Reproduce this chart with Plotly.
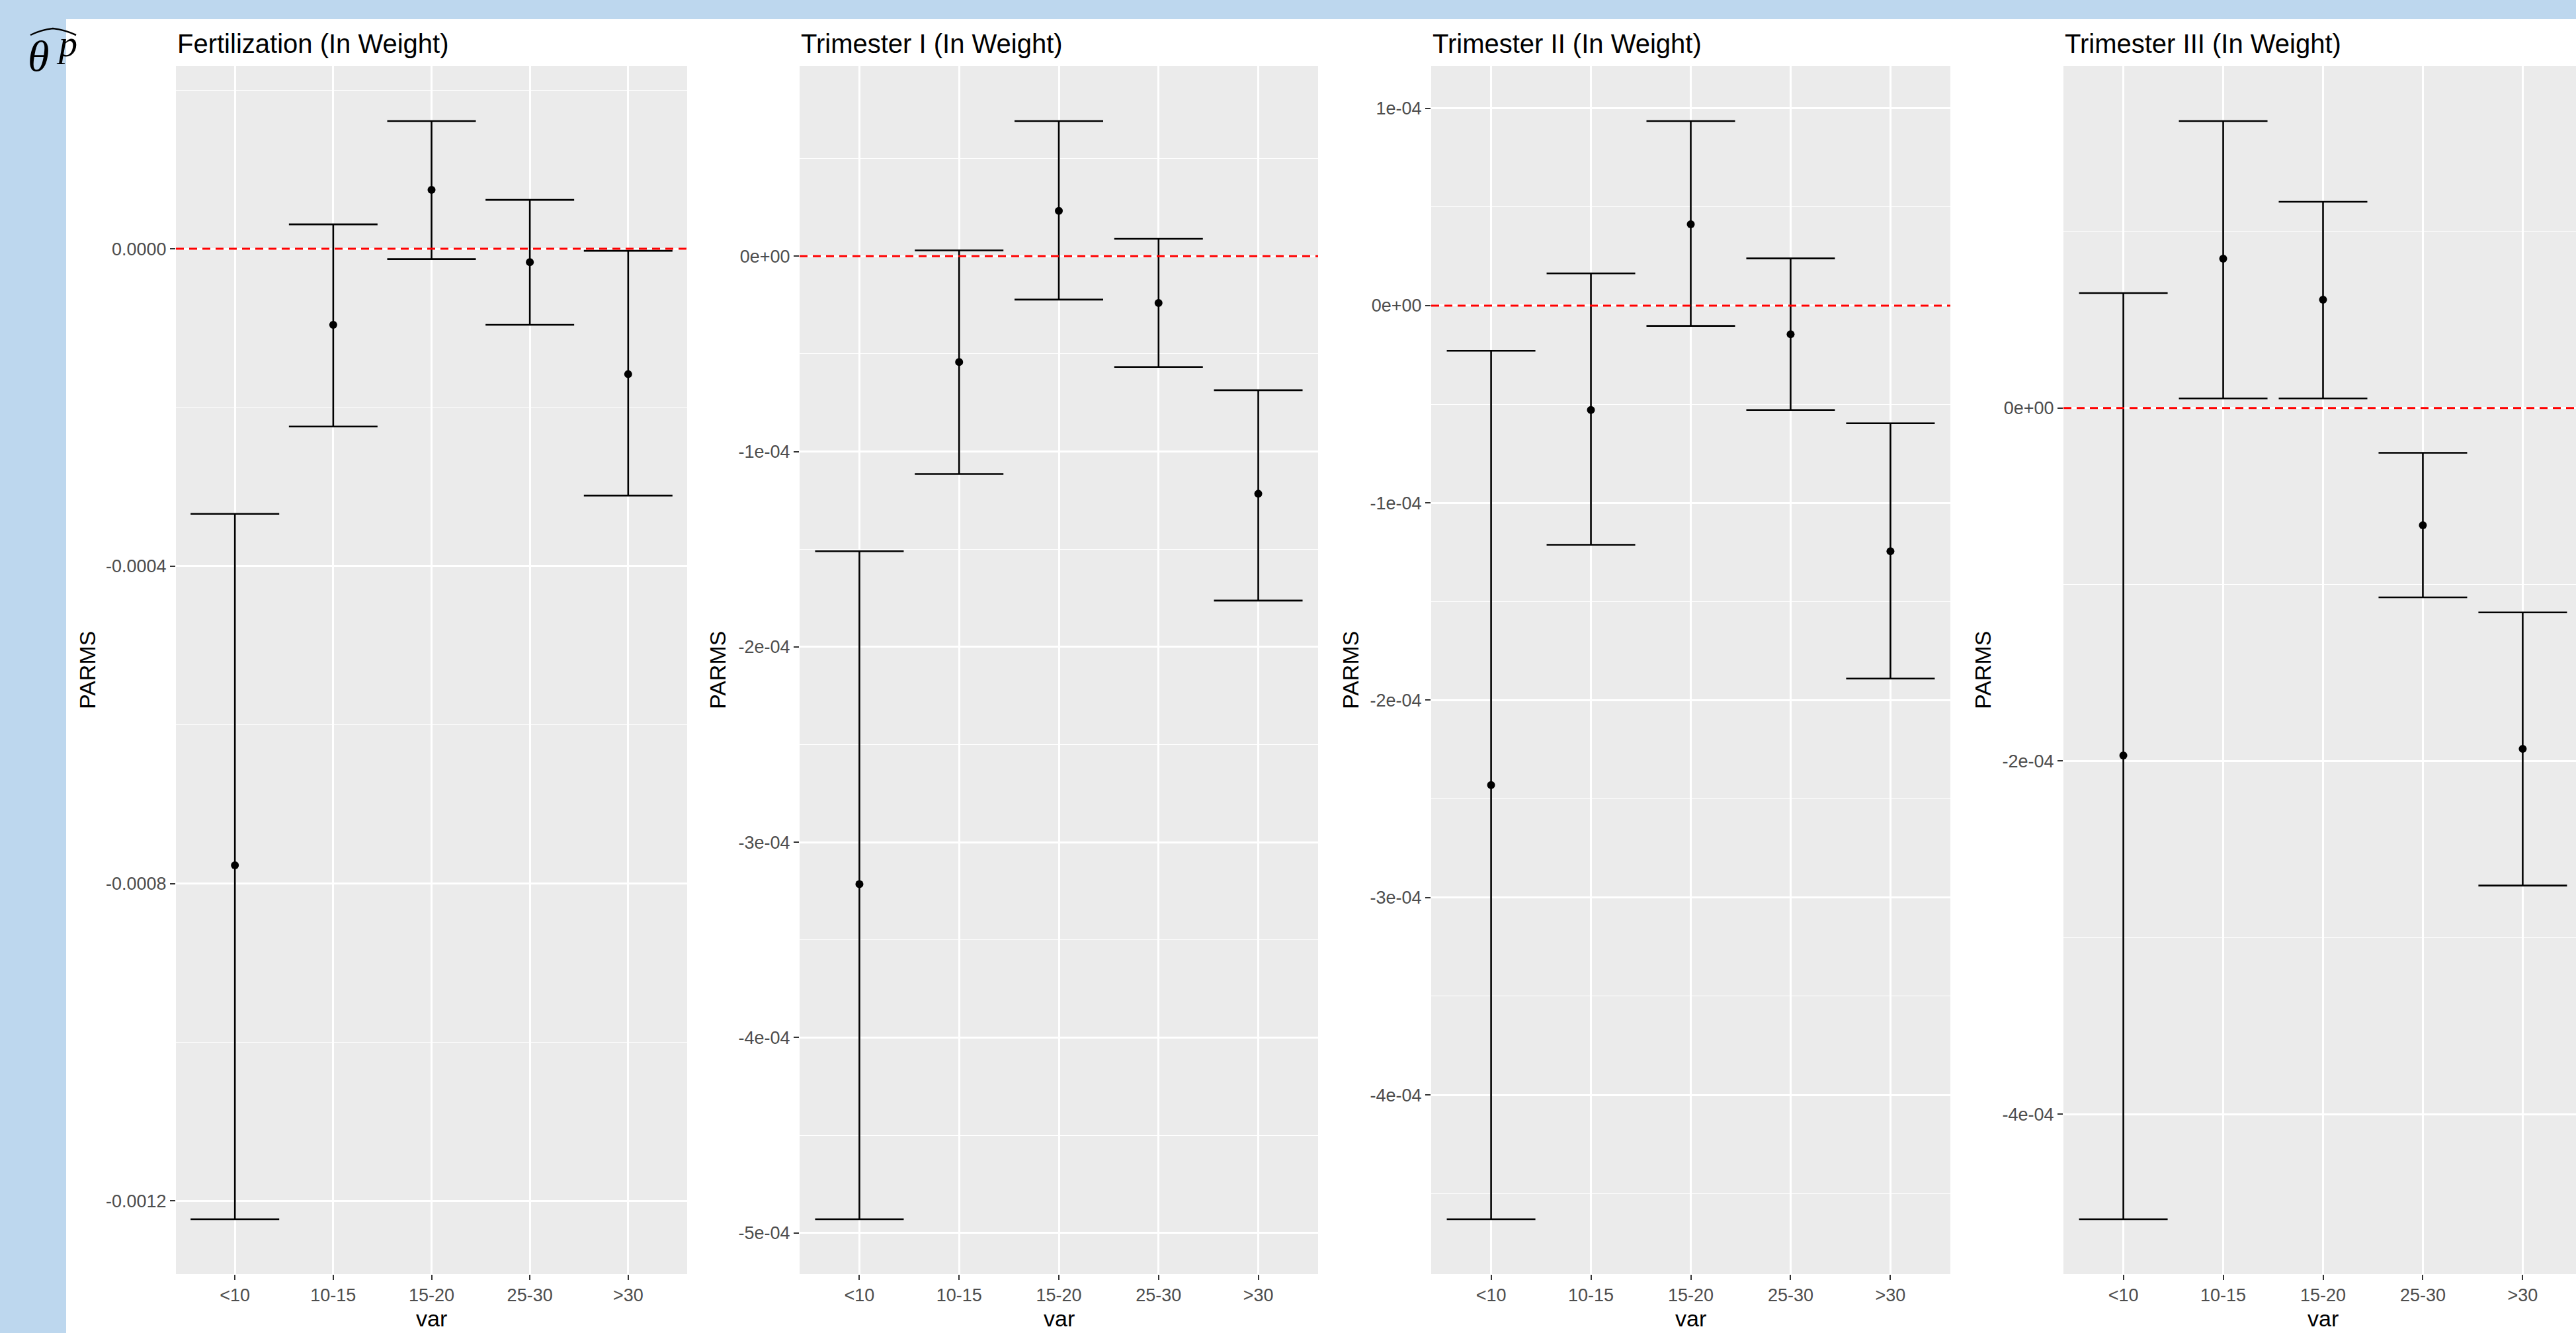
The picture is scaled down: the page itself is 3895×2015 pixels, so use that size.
import plotly.graph_objects as go

# ---------------- data ----------------
categories = ["<10", "10-15", "15-20", "25-30", ">30"]

panel_titles = ["Fertilization (In Weight)", "Trimester I (In Weight)",
                "Trimester II (In Weight)", "Trimester III (In Weight)"]

fert_est = [-0.000777, -0.0000958, 0.0000742, -0.0000167, -0.000158]
fert_low = [-0.001223, -0.000224, -0.0000129, -0.0000958, -0.000311]
fert_high = [-0.000334, 0.0000308, 0.000161, 0.0000617, -0.0000025]

tri1_est = [-0.0003215, -0.0000542, 0.0000232, -0.0000239, -0.0001216]
tri1_low = [-0.000493, -0.0001115, -0.0000222, -0.0000567, -0.0001763]
tri1_high = [-0.000151, 0.000003, 0.0000692, 0.0000089, -0.0000686]

tri2_est = [-0.000243, -0.0000529, 0.0000412, -0.0000145, -0.0001245]
tri2_low = [-0.000463, -0.0001212, -0.0000103, -0.0000529, -0.000189]
tri2_high = [-0.0000229, 0.0000163, 0.0000935, 0.0000239, -0.0000596]

tri3_est = [-0.0001968, 0.0000846, 0.0000613, -0.0000664, -0.0001931]
tri3_low = [-0.0004595, 0.0000054, 0.0000054, -0.0001073, -0.0002705]
tri3_high = [0.0000651, 0.0001625, 0.0001168, -0.0000254, -0.0001158]

fert_ticks = [0.0, -0.0004, -0.0008, -0.0012]
fert_ticklabels = ["0.0000", "-0.0004", "-0.0008", "-0.0012"]
tri1_ticks = [0.0, -1e-4, -2e-4, -3e-4, -4e-4, -5e-4]
tri1_ticklabels = ["0e+00", "-1e-04", "-2e-04", "-3e-04", "-4e-04", "-5e-04"]
tri2_ticks = [1e-4, 0.0, -1e-4, -2e-4, -3e-4, -4e-4]
tri2_ticklabels = ["1e-04", "0e+00", "-1e-04", "-2e-04", "-3e-04", "-4e-04"]
tri3_ticks = [0.0, -2e-4, -4e-4]
tri3_ticklabels = ["0e+00", "-2e-04", "-4e-04"]

reference_value = 0.0
x_label = "var"
y_label = "PARMS"

# ---------------- layout helpers ----------------
W, H = 3895, 2015
plot_top, plot_bottom = 100, 1926
panel_px = [(266, 1039), (1209, 1993), (2164, 2949), (3120, 3905)]
ytitle_px = [132, 1085, 2042, 2998]

panels = [
    (fert_est, fert_low, fert_high, fert_ticks, fert_ticklabels),
    (tri1_est, tri1_low, tri1_high, tri1_ticks, tri1_ticklabels),
    (tri2_est, tri2_low, tri2_high, tri2_ticks, tri2_ticklabels),
    (tri3_est, tri3_low, tri3_high, tri3_ticks, tri3_ticklabels),
]

FONT = "Liberation Sans, Arial, sans-serif"
fig = go.Figure()
shapes = []
annotations = []

# slide decoration (light-blue frame)
BLUE = "#BDD7EE"
shapes.append(dict(type="rect", xref="paper", yref="paper", x0=0, x1=1,
                   y0=1 - 29 / H, y1=1, fillcolor=BLUE, line_width=0, layer="below"))
shapes.append(dict(type="rect", xref="paper", yref="paper", x0=0, x1=100 / W,
                   y0=0, y1=1, fillcolor=BLUE, line_width=0, layer="below"))

for i, (est, low, high, tvals, ttext) in enumerate(panels):
    n = "" if i == 0 else str(i + 1)
    xa, ya = "x" + n, "y" + n
    left, right = panel_px[i]
    ppu = (right - left) / 5.2
    right_vis = min(right, W)
    xmax = -0.6 + (right_vis - left) / ppu

    fig.add_trace(go.Scatter(
        x=categories, y=est, xaxis=xa, yaxis=ya, mode="markers",
        marker=dict(color="black", size=12),
        error_y=dict(type="data", symmetric=False,
                     array=[h - e for h, e in zip(high, est)],
                     arrayminus=[e - l for e, l in zip(est, low)],
                     color="black", thickness=2.6, width=67),
        showlegend=False, hoverinfo="skip"))

    lo, hi = min(low), max(high)
    pad = 0.05 * (hi - lo)
    step = abs(tvals[0] - tvals[1])

    fig.layout["xaxis" + n] = dict(
        domain=[left / W, right_vis / W], anchor=ya, type="category",
        range=[-0.6, xmax], showgrid=True, gridcolor="white", gridwidth=2.5,
        zeroline=False, showline=False, ticks="outside", ticklen=8, tickwidth=2,
        tickcolor="#333333", tickfont=dict(family=FONT, size=27, color="#4D4D4D"),
        fixedrange=True)
    fig.layout["yaxis" + n] = dict(
        domain=[1 - plot_bottom / H, 1 - plot_top / H], anchor=xa,
        range=[lo - pad, hi + pad], tickmode="array", tickvals=tvals, ticktext=ttext,
        showgrid=True, gridcolor="white", gridwidth=2.5, zeroline=False, showline=False,
        ticks="outside", ticklen=8, tickwidth=2, tickcolor="#333333",
        tickfont=dict(family=FONT, size=27, color="#4D4D4D"),
        minor=dict(showgrid=True, gridcolor="white", gridwidth=1.3,
                   tickmode="linear", tick0=step / 2, dtick=step),
        fixedrange=True)

    shapes.append(dict(type="line", xref=xa + " domain", yref=ya, x0=0, x1=1,
                       y0=reference_value, y1=reference_value,
                       line=dict(color="#FF0000", width=3, dash="12px,8px"),
                       layer="above"))

    annotations.append(dict(text=panel_titles[i], xref=xa + " domain", yref="paper",
                            x=0, y=1 - 66 / H, xanchor="left", yanchor="middle",
                            showarrow=False, font=dict(family=FONT, size=40, color="black")))
    annotations.append(dict(text=x_label, xref=xa + " domain", yref="paper",
                            x=0.5 if i < 3 else 0.5 * (right - left) / (right_vis - left),
                            y=1 - 1993 / H, xanchor="center", yanchor="middle",
                            showarrow=False, font=dict(family=FONT, size=34, color="black")))
    annotations.append(dict(text=y_label, xref="paper", yref="paper",
                            x=ytitle_px[i] / W, y=1 - (plot_top + plot_bottom) / 2 / H,
                            xanchor="center", yanchor="middle", textangle=-90,
                            showarrow=False, font=dict(family=FONT, size=34, color="black")))

# theta-hat-p symbol
annotations.append(dict(text="<i>θ</i>", xref="paper", yref="paper", x=58 / W, y=1 - 85 / H,
                        xanchor="center", yanchor="middle", showarrow=False,
                        font=dict(family="Liberation Serif, serif", size=66, color="black")))
annotations.append(dict(text="<i>p</i>", xref="paper", yref="paper", x=101 / W, y=1 - 66 / H,
                        xanchor="center", yanchor="middle", showarrow=False,
                        font=dict(family="Liberation Serif, serif", size=56, color="black")))

def P(x, y):
    return f"{x / W:.6f},{1 - y / H:.6f}"

shapes.append(dict(type="path", xref="paper", yref="paper",
                   path=f"M {P(46, 53)} Q {P(62, 45)} {P(80, 43)} Q {P(98, 45)} {P(115, 53)}",
                   line=dict(color="black", width=2.5), layer="above"))

fig.update_layout(
    width=W, height=H, margin=dict(l=0, r=0, t=0, b=0),
    paper_bgcolor="white", plot_bgcolor="#EBEBEB",
    shapes=shapes, annotations=annotations, showlegend=False,
)

fig.write_html("out.html", config={"displayModeBar": False},
               post_script="document.body.style.margin='0';document.body.style.overflow='hidden';")
